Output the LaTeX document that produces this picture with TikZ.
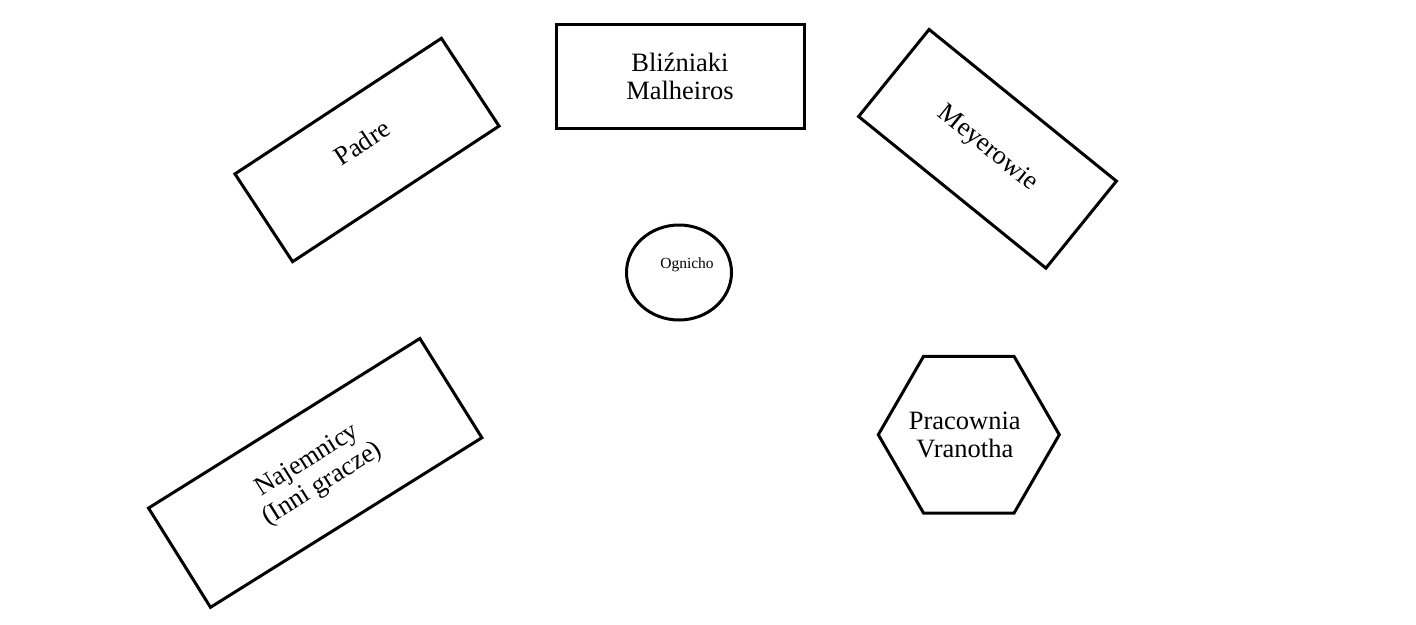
\documentclass[tikz,border=0pt]{standalone}
\usepackage{fontspec}
\setmainfont{Liberation Serif}
\usetikzlibrary{shapes.geometric}
\begin{document}
\begin{tikzpicture}[x=1pt,y=-1pt,
  base/.style={draw=black, line width=3pt, inner sep=0pt, outer sep=0pt,
    font=\fontsize{26.5}{28}\selectfont, align=center},
  box/.style={base, rectangle, minimum width=247pt, minimum height=105pt},
  bigbox/.style={base, rectangle, minimum width=320pt, minimum height=117pt},
  fire/.style={base, ellipse, minimum width=105pt, minimum height=95pt},
  hexa/.style={base, regular polygon, regular polygon sides=6, minimum size=181pt},
  small/.style={font=\fontsize{15.5}{18}\selectfont, inner sep=0pt}
]
\useasboundingbox (0,0) rectangle (1416,624);
\node[box, minimum width=248pt, minimum height=104pt] (bliz) at (680,76) {Bliźniaki\\Malheiros};
\node[box, rotate=33.3] (padre) at (367,150) {\smash{Padre}};
\node[box, minimum width=241pt, minimum height=112pt, rotate=-39] (meyer) at (987.5,148.8) {Meyerowie};
\node[bigbox, rotate=32] (najem) at (315.2,472.9) {Najemnicy\\(Inni gracze)};
\node[fire] (ogn) at (679,272.5) {};
\node[small, anchor=base] (ogntxt) at (687,268) {Ognicho};
\node[hexa] (prac) at (968.8,434.7) {\makebox[0pt]{\raisebox{-2pt}{Pracownia}\hspace*{8pt}}\\\makebox[0pt]{\raisebox{-2pt}{Vranotha}\hspace*{8pt}}};
\end{tikzpicture}
\end{document}
